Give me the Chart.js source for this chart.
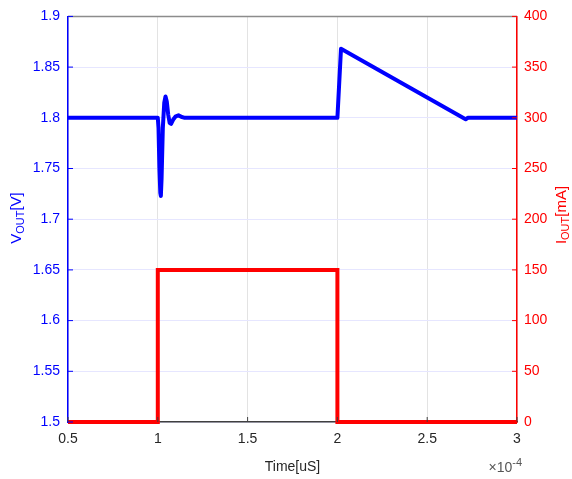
<!DOCTYPE html>
<html><head><meta charset="utf-8">
<script src="https://cdn.jsdelivr.net/npm/chart.js@4.4.1/dist/chart.umd.min.js"></script>
<style>html,body{margin:0;padding:0;background:#fff}#wrap{width:572px;height:479px}</style>
</head><body><div id="wrap"><canvas id="c" width="572" height="479"></canvas></div>
<script>
// time in units of 1e-4 s
const timeV = [0.5, 1.0, 1.004, 1.009, 1.014, 1.017, 1.021, 1.028, 1.036, 1.043, 1.05, 1.058, 1.066, 1.074, 1.085, 1.1, 1.115, 1.13, 1.15, 2.0, 2.02, 2.714, 2.727, 3.0];
const voltV = [1.8, 1.8, 1.79, 1.75, 1.726, 1.723, 1.74, 1.79, 1.815, 1.821, 1.816, 1.803, 1.795, 1.794, 1.798, 1.8015, 1.8025, 1.801, 1.8, 1.8, 1.868, 1.7985, 1.8, 1.8];
const timeI = [0.5, 1.0, 1.0, 2.0, 2.0, 3.0];
const currI = [0, 0, 150, 150, 0, 0];
const xTicks = [0.5, 1, 1.5, 2, 2.5, 3];
const vTicks = [1.5, 1.55, 1.6, 1.65, 1.7, 1.75, 1.8, 1.85, 1.9];
const iTicks = [0, 50, 100, 150, 200, 250, 300, 350, 400];

const FONT = '"Liberation Sans", Arial, sans-serif';
const vPts = timeV.map((t, i) => ({x: t, y: voltV[i]}));
const iPts = timeI.map((t, i) => ({x: t, y: currI[i]}));

const decor = {
  id: 'decor',
  afterDraw(chart) {
    const {ctx, chartArea: a} = chart;
    ctx.save();
    ctx.strokeStyle = '#8c8c8c'; ctx.lineWidth = 1.5;
    ctx.beginPath(); ctx.moveTo(a.left, a.top); ctx.lineTo(a.right, a.top); ctx.stroke();
    ctx.lineWidth = 1;
    const xs = chart.scales.x, yl = chart.scales.y, yr = chart.scales.y1;
    ctx.strokeStyle = '#404040';
    xTicks.forEach(t => { const px = xs.getPixelForValue(t);
      ctx.beginPath(); ctx.moveTo(px, a.bottom); ctx.lineTo(px, a.bottom - 5); ctx.stroke(); });
    ctx.strokeStyle = '#0000ff';
    vTicks.forEach(t => { const py = yl.getPixelForValue(t);
      ctx.beginPath(); ctx.moveTo(a.left, py); ctx.lineTo(a.left + 5, py); ctx.stroke(); });
    ctx.strokeStyle = '#ff0000';
    iTicks.forEach(t => { const py = yr.getPixelForValue(t);
      ctx.beginPath(); ctx.moveTo(a.right, py); ctx.lineTo(a.right - 5, py); ctx.stroke(); });
    ctx.textBaseline = 'alphabetic';
    ctx.save();
    ctx.translate(21, 218); ctx.rotate(-Math.PI / 2);
    ctx.fillStyle = '#0000ff';
    ctx.font = '15px ' + FONT;
    const w1 = ctx.measureText('V').width;
    ctx.font = '11px ' + FONT;
    const w2 = ctx.measureText('OUT').width;
    ctx.font = '15px ' + FONT;
    const w3 = ctx.measureText('[V]').width;
    let x0 = -(w1 + w2 + w3) / 2;
    ctx.fillText('V', x0, 0);
    ctx.font = '11px ' + FONT; ctx.fillText('OUT', x0 + w1, 3);
    ctx.font = '15px ' + FONT; ctx.fillText('[V]', x0 + w1 + w2, 0);
    ctx.restore();
    ctx.save();
    ctx.translate(566, 215); ctx.rotate(-Math.PI / 2);
    ctx.fillStyle = '#ff0000';
    ctx.font = '15px ' + FONT;
    const r1 = ctx.measureText('I').width;
    ctx.font = '11px ' + FONT;
    const r2 = ctx.measureText('OUT').width;
    ctx.font = '15px ' + FONT;
    const r3 = ctx.measureText('[mA]').width;
    x0 = -(r1 + r2 + r3) / 2;
    ctx.fillText('I', x0, 0);
    ctx.font = '11px ' + FONT; ctx.fillText('OUT', x0 + r1, 3);
    ctx.font = '15px ' + FONT; ctx.fillText('[mA]', x0 + r1 + r2, 0);
    ctx.restore();
    ctx.fillStyle = '#262626';
    ctx.font = '14px ' + FONT; ctx.textAlign = 'center';
    ctx.fillText('Time[uS]', (a.left + a.right) / 2, 471);
    ctx.fillStyle = '#555555';
    ctx.textAlign = 'left';
    ctx.font = '14px ' + FONT;
    const e1 = ctx.measureText('\u00d710').width;
    ctx.font = '11px ' + FONT;
    const e2 = ctx.measureText('-4').width;
    const ex = a.right + 5 - e1 - e2;
    ctx.font = '14px ' + FONT; ctx.fillText('\u00d710', ex, 472);
    ctx.font = '11px ' + FONT; ctx.fillText('-4', ex + e1, 466);
    ctx.restore();
  }
};

new Chart(document.getElementById('c'), {
  type: 'line',
  data: {
    datasets: [
      {data: iPts, yAxisID: 'y1', borderColor: '#ff0000', borderWidth: 4, pointRadius: 0, tension: 0, clip: 6, order: 2},
      {data: vPts, yAxisID: 'y', borderColor: '#0000ff', borderWidth: 4, pointRadius: 0, tension: 0, borderJoinStyle: 'round', clip: 6, order: 1}
    ]
  },
  options: {
    responsive: false, animation: false, devicePixelRatio: 1,
    layout: {padding: {top: 15, left: 0, right: 0, bottom: 0}},
    plugins: {legend: {display: false}, tooltip: {enabled: false}},
    scales: {
      x: {
        type: 'linear', min: 0.5, max: 3,
        afterBuildTicks: s => { s.ticks = xTicks.map(v => ({value: v})); },
        afterFit: s => { s.height = 57; },
        grid: {color: '#e3e3e3', drawTicks: false},
        border: {color: '#404040', width: 1.5},
        ticks: {color: '#262626', font: {family: FONT, size: 14}, padding: 9, maxRotation: 0,
          callback: v => String(v)}
      },
      y: {
        position: 'left', min: 1.5, max: 1.9,
        afterBuildTicks: s => { s.ticks = vTicks.map(v => ({value: v})); },
        afterFit: s => { s.width = 68; },
        grid: {color: '#e6e6ff', drawTicks: false},
        border: {color: '#0000ff', width: 1.5},
        ticks: {color: '#0000ff', font: {family: FONT, size: 14}, padding: 8,
          callback: v => String(v)}
      },
      y1: {
        position: 'right', min: 0, max: 400,
        afterBuildTicks: s => { s.ticks = iTicks.map(v => ({value: v})); },
        afterFit: s => { s.width = 55; },
        grid: {display: false, drawTicks: false},
        border: {color: '#ff0000', width: 1.5},
        ticks: {color: '#ff0000', font: {family: FONT, size: 14}, padding: 7,
          callback: v => String(v)}
      }
    }
  },
  plugins: [decor]
});
</script></body></html>
